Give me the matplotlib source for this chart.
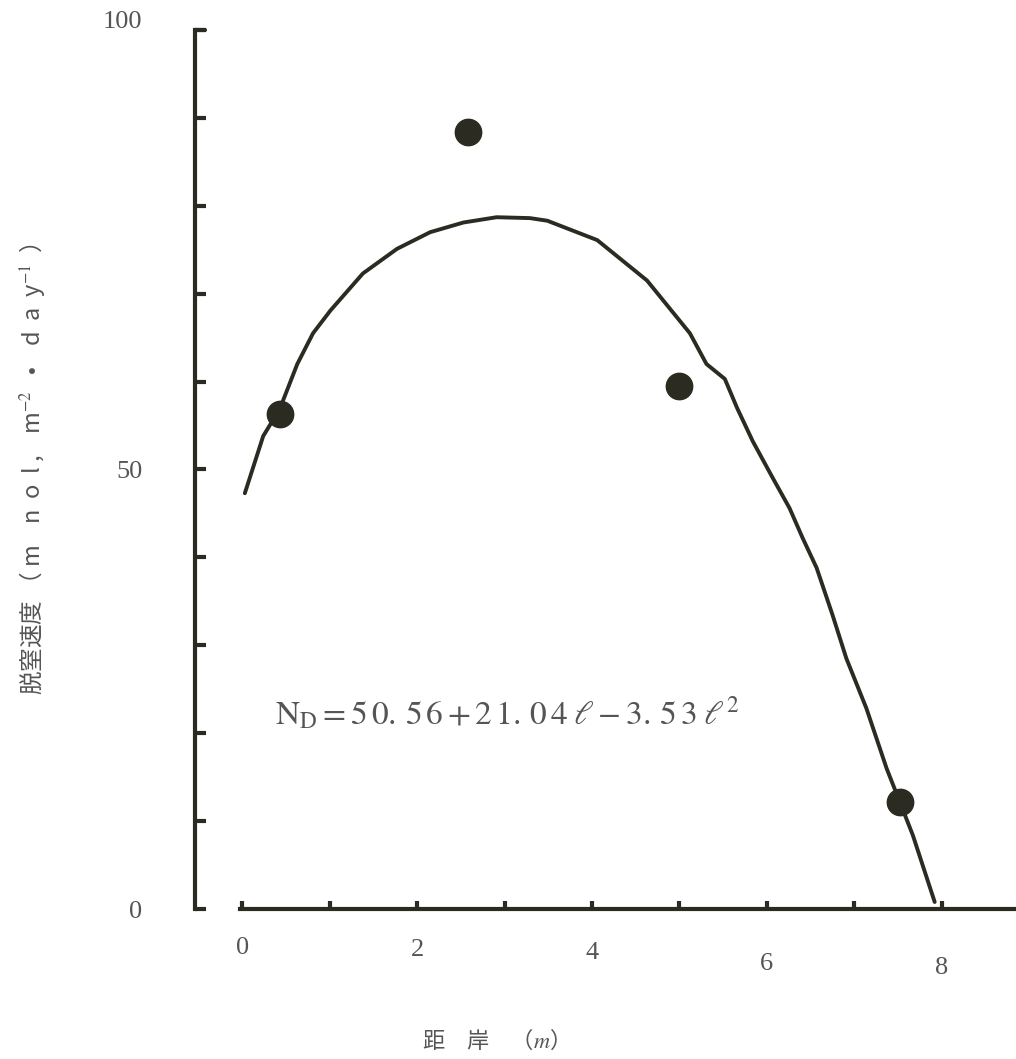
import matplotlib.pyplot as plt
from matplotlib.ticker import MultipleLocator
from matplotlib.transforms import ScaledTranslation

plt.rcParams['font.family'] = ['Liberation Serif', 'Noto Sans CJK JP', 'DejaVu Sans']
plt.rcParams['mathtext.fontset'] = 'stix'

# measured points (distance from shore, denitrification rate)
dist = [0.43, 2.58, 5.0, 7.52]
rate = [56.3, 88.4, 59.5, 12.2]

# fitted curve as drawn in the figure
curve_x = [0.03, 0.24, 0.43, 0.63, 0.81, 1.01, 1.38, 1.77, 2.15, 2.53, 2.91,
           3.29, 3.49, 4.06, 4.63, 5.12, 5.31, 5.52, 5.66, 5.84, 6.07, 6.26,
           6.41, 6.57, 6.75, 6.91, 7.14, 7.37, 7.52, 7.67, 7.92]
curve_y = [47.3, 53.8, 56.9, 62.0, 65.5, 68.1, 72.3, 75.1, 77.0, 78.1, 78.7,
           78.6, 78.3, 76.1, 71.5, 65.5, 62.0, 60.3, 57.0, 53.2, 49.0, 45.6,
           42.2, 38.8, 33.5, 28.5, 22.8, 16.0, 12.2, 8.4, 0.8]

x_ticks = [0, 2, 4, 6, 8]
y_ticks = [0, 50, 100]

ink = '#2b2b22'
grey = '#555555'

fig = plt.figure(figsize=(10.16, 10.59), dpi=100)
ax = fig.add_axes([195 / 1016, 150 / 1059, 821 / 1016, 879 / 1059])

ax.plot(curve_x, curve_y, color=ink, lw=2.8, solid_capstyle='round',
        solid_joinstyle='round')
ax.plot(dist, rate, 'o', color=ink, markersize=19)

ax.set_xlim(-0.54, 8.85)
ax.set_ylim(0, 100)

for s in ['top', 'right']:
    ax.spines[s].set_visible(False)
ax.spines['left'].set_linewidth(3)
ax.spines['left'].set_color(ink)
ax.spines['bottom'].set_linewidth(3)
ax.spines['bottom'].set_color(ink)
ax.spines['bottom'].set_bounds(-0.02, 8.85)
# small hook at the top of the y axis
ax.plot([0, 0.012], [1, 1], color=ink, lw=3, transform=ax.transAxes,
        clip_on=False, solid_capstyle='round')

ax.set_yticks(y_ticks)
ax.set_yticklabels([str(v) for v in y_ticks])
ax.yaxis.set_minor_locator(MultipleLocator(10))
ax.tick_params(axis='y', which='both', direction='in', length=8, width=3,
               color=ink, labelsize=19, labelcolor=grey, pad=38)

ax.set_xticks(x_ticks)
ax.set_xticklabels([str(v) for v in x_ticks])
ax.xaxis.set_minor_locator(MultipleLocator(1))
ax.tick_params(axis='x', which='both', direction='in', length=6, width=3,
               color=ink, labelsize=19, labelcolor=grey, pad=20)

# the scanned labels drift a little
fig.canvas.draw()
for lab in ax.get_yticklabels():
    if lab.get_text() == '100':
        lab.set_transform(lab.get_transform() +
                          ScaledTranslation(0, 10 / 100, fig.dpi_scale_trans))
drift = [0, -2, -5, -16, -20]
for lab, d in zip(ax.get_xticklabels(), drift):
    lab.set_transform(lab.get_transform() +
                      ScaledTranslation(0, d / 100, fig.dpi_scale_trans))

ax.set_ylabel('脱窒速度 （ m    n  o  l ,    m$^{-2}$   •    d  a  y$^{-1}$  ）',
              fontsize=17, color=grey,
              family=['Noto Sans CJK JP', 'DejaVu Sans'])
ax.yaxis.set_label_coords(-0.18, 0.5)

fig.text(490 / 1016, 1 - 1040 / 1059, '距　岸　（$\\mathit{m}$）',
         fontsize=16, color=grey, ha='center', va='center',
         family=['Noto Sans CJK JP', 'DejaVu Sans'])

ax.text(0.38, 22.3,
        r'$\mathrm{N_D} = 5\,0.\,5\,6 + 2\,1.\,0\,4\;\ell - 3.\,5\,3\;\ell^2$',
        fontsize=24, color=grey, ha='left', va='center')

fig.savefig('out.png', dpi=100)
